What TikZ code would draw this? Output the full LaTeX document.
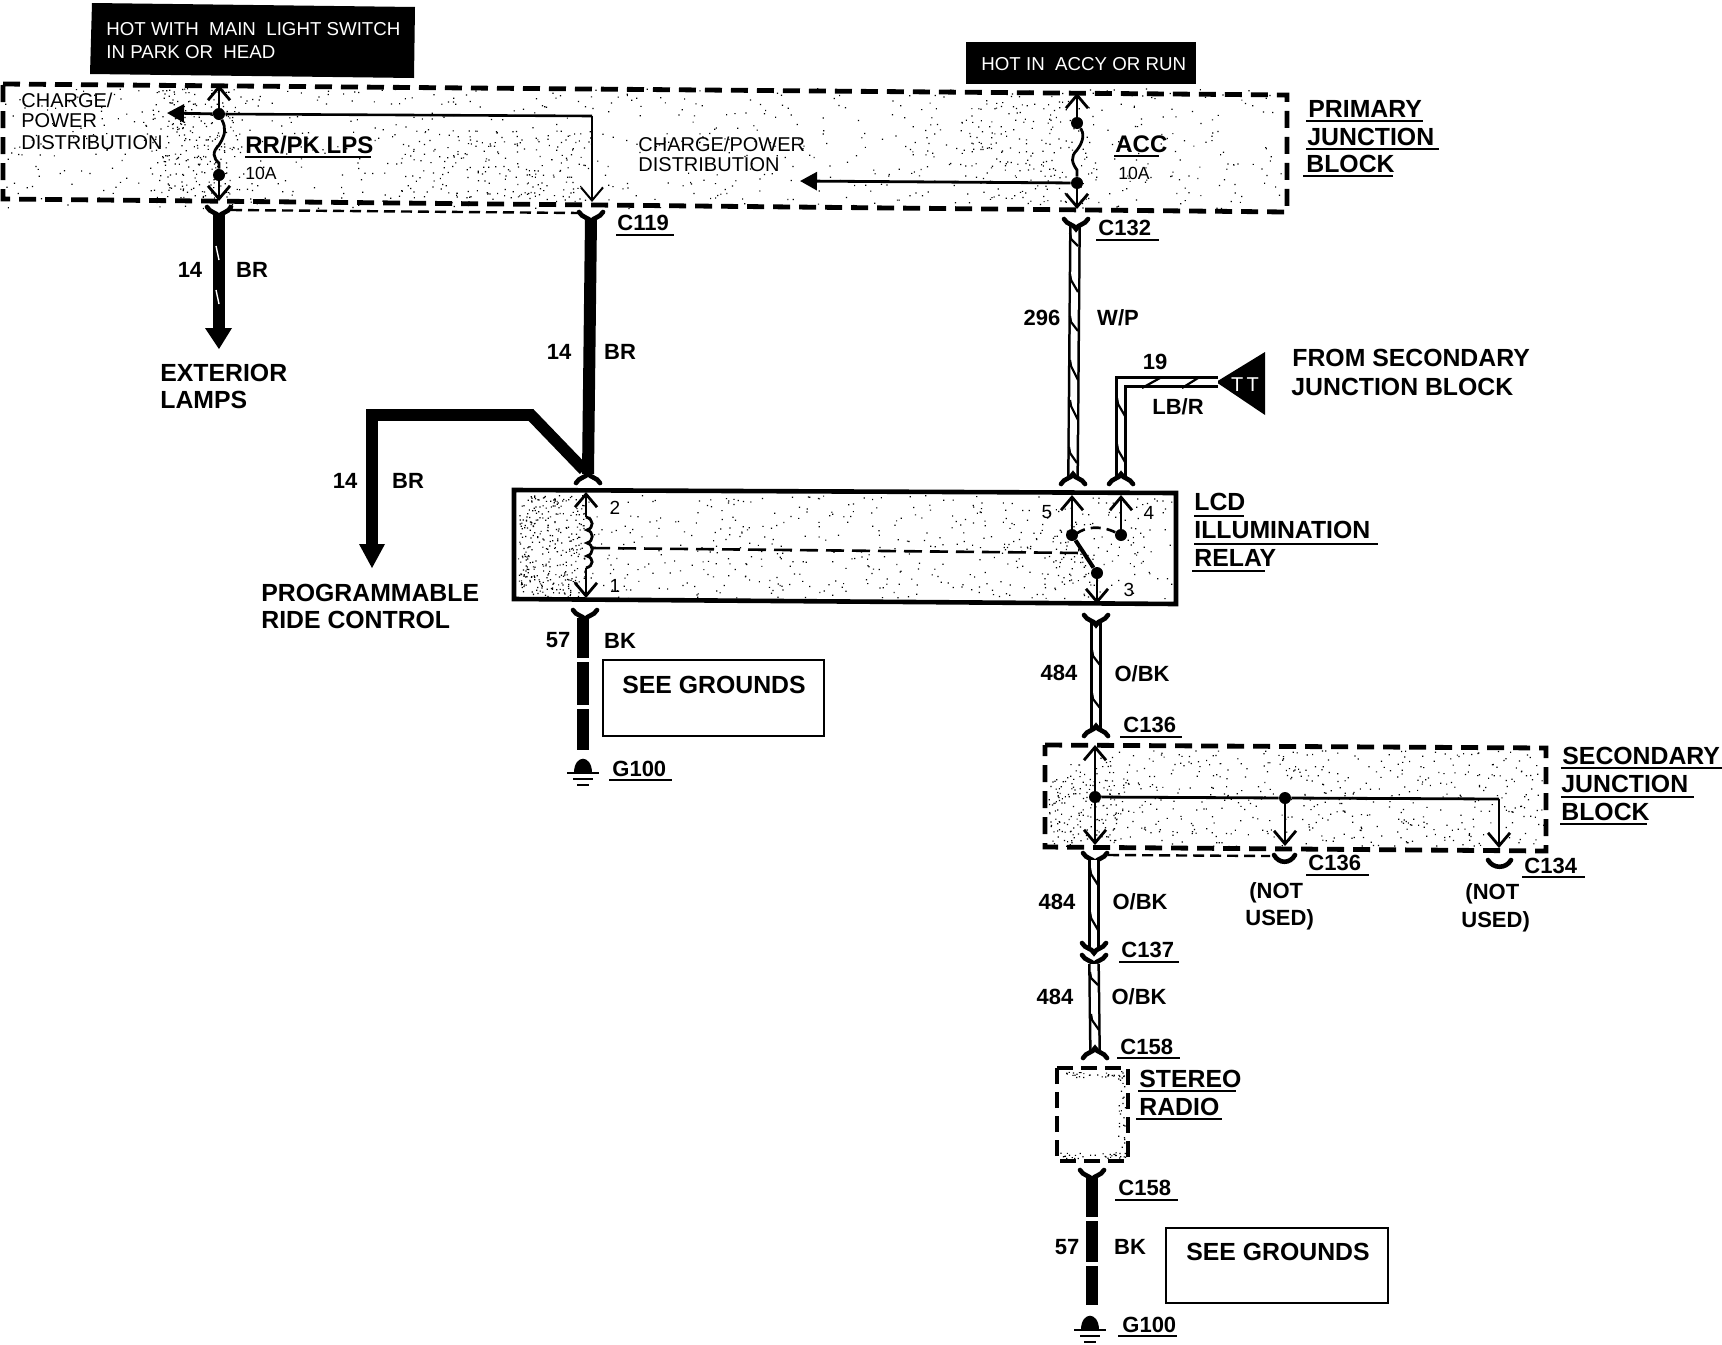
\documentclass[tikz,border=0pt]{standalone}
\usepackage{fontspec}
\setmainfont{Liberation Sans}
\usetikzlibrary{arrows.meta}
\newcommand\fbig{\fontsize{12.4}{15}\selectfont\bfseries}
\newcommand\fmid{\fontsize{11}{14}\selectfont\bfseries}
\newcommand\fsmall{\fontsize{10}{12}\selectfont}
\newcommand\fwhite{\fontsize{9.35}{12}\selectfont}
\newcommand\stipple[5]{\fill[black] \foreach \i in {1,...,#5}{ ({#1+rnd*(#3-#1)},{#2+rnd*(#4-#2)}) rectangle ++(1.2,1.2) };}
\newcommand\ul[3]{\draw[rule] (#1,#3) -- (#2,#3);}
\newcommand\forktop[2]{\draw[forkline] ({#1-12},#2) .. controls ({#1-9},{#2+6}) and ({#1-2},{#2+5}) .. (#1,{#2+10}) .. controls ({#1+2},{#2+5}) and ({#1+9},{#2+6}) .. ({#1+12},#2);}
\newcommand\forkbot[2]{\draw[forkline] ({#1-12},#2) .. controls ({#1-9},{#2-6}) and ({#1-2},{#2-5}) .. (#1,{#2-10}) .. controls ({#1+2},{#2-5}) and ({#1+9},{#2-6}) .. ({#1+12},#2);}
\newcommand\sv[3]{\draw[slash] ({#1-4},#2) -- ({#1-3},{#2+6}) -- ({#1+4},#3);}
\newcommand\wslash[3]{\draw[wslashline] ({#1-1},#2) -- ({#1+2},#3);}
\newcommand\groundsym[2]{\fill[black] ({#1-9},#2) .. controls ({#1-9},{#2-19}) and ({#1+9},{#2-19}) .. ({#1+9},#2) -- cycle;
  \draw[line width=1.4pt] ({#1-16},#2) -- ({#1+16},#2) ({#1-10},{#2+6}) -- ({#1+10},{#2+6}) ({#1-6},{#2+12}) -- ({#1+6},{#2+12});}
\tikzset{
  wire/.style={line width=1.4pt,>={Straight Barb[length=6.5pt,width=11pt]}},
  thickwire/.style={line width=6pt},
  dblwire/.style={line width=1.25pt,double=white,double distance=3.4pt},
  blockedge/.style={line width=2.4pt,dash pattern=on 8.5pt off 4.5pt},
  thindash/.style={line width=1.2pt,dash pattern=on 5.5pt off 3pt},
  forkline/.style={line width=2.3pt,line cap=round},
  rule/.style={line width=1.1pt},
  slash/.style={line width=1.1pt},
  wslashline/.style={line width=0.7pt,white},
  dot/.style={circle,fill=black,inner sep=0pt,minimum size=6pt},
  big/.style={font=\fbig,inner sep=0pt,anchor=west},
  mid/.style={font=\fmid,inner sep=0pt},
  small/.style={font=\fsmall,inner sep=0pt,anchor=west},
  whitetext/.style={font=\fwhite,text=white,inner sep=0pt,anchor=west},
  seebox/.style={draw,line width=1.25pt,inner sep=0pt},
  pinlabel/.style={font=\fontsize{9.5}{11}\selectfont,inner sep=0pt},
  tinylabel/.style={font=\fontsize{8.8}{10}\selectfont,inner sep=0pt,anchor=west},
  fuselabel/.style={font=\fontsize{12}{14}\selectfont\bfseries,inner sep=0pt,anchor=west},
  conlabel/.style={font=\fmid,inner sep=0pt,anchor=west},
}
\begin{document}
\begin{tikzpicture}[x=0.5pt,y=-0.5pt]
\useasboundingbox (0,0) rectangle (1722,1344);
\fill[white] (0,0) rectangle (1722,1344);
\pgfmathsetseed{7}
% stipple
\stipple{5}{88}{1284}{208}{800}
\stipple{150}{88}{240}{198}{220}
\stipple{400}{130}{590}{198}{150}
\stipple{960}{100}{1100}{205}{150}
\stipple{518}{495}{1172}{598}{500}
\stipple{518}{495}{585}{598}{300}
\stipple{1040}{520}{1100}{598}{60}
\stipple{1048}{750}{1543}{846}{550}
\stipple{1050}{780}{1130}{846}{120}
\stipple{1060}{1071}{1125}{1077}{30}
\stipple{1060}{1152}{1125}{1158}{30}
\stipple{1118}{1071}{1125}{1158}{30}
% block outlines
\draw[blockedge] (3,84) -- (1287,95) -- (1287,212) -- (3,199) -- cycle;
\draw[blockedge] (1045,745) -- (1546,748) -- (1546,851) -- (1045,847) -- cycle;
\draw[blockedge,dash pattern=on 8pt off 4pt] (1057,1068) -- (1128,1068) -- (1128,1161) -- (1057,1161) -- cycle;
\draw[line width=2.3pt] (514,490) -- (1176,493) -- (1176,604) -- (514,599) -- cycle;
% black label boxes
\fill[black] (92,3) -- (415,7) -- (414,78) -- (90,74) -- cycle;
\fill[black] (966,42) -- (1196,42) -- (1196,84) -- (966,84) -- cycle;
\node[whitetext] (hot1) at (106,29) {HOT WITH\ \ MAIN\ \ LIGHT SWITCH};
\node[whitetext] (hot2) at (106,52) {IN PARK OR\ \ HEAD};
\node[whitetext] (hot3) at (981,64) {HOT IN\ \ ACCY OR RUN};
% left feed in primary block
\node[dot] (ja) at (219,114) {};
\node[dot] (jb) at (219,175) {};
\coordinate (ta) at (219,85);
\coordinate (ba) at (219,201);
\coordinate (la) at (167,113);
\coordinate (ca) at (592,116);
\coordinate (bc) at (592,202);
\draw[wire,->] (ja) -- (ta);
\draw[wire,->] (jb) -- (ba);
\draw[wire,-{Triangle[length=8.5pt,width=9pt]}] (ja) -- (la);
\draw[wire] (ja) .. controls (226,128) and (226,134) .. (219,145) .. controls (212,152) and (213,158) .. (219,163) -- (jb);
\draw[line width=1.3pt] (ja) -- (ca);
\draw[line width=1pt,->,>={Straight Barb[length=6.5pt,width=11pt]}] (ca) -- (bc);
% ACC feed
\node[dot] (jc) at (1077,123) {};
\node[dot] (jd) at (1077,183) {};
\coordinate (tc) at (1077,93);
\coordinate (bd) at (1077,209);
\coordinate (ld) at (800,181);
\draw[wire,->] (jc) -- (tc);
\draw[wire,->] (jd) -- (bd);
\draw[wire] (jc) .. controls (1084,133) and (1084,141) .. (1077,150) .. controls (1070,157) and (1072,163) .. (1077,170) -- (jd);
\draw[wire,-{Triangle[length=8.5pt,width=9pt]}] (jd) -- (ld);
% wire 14 BR exterior lamps
\coordinate (w1a) at (219,214);
\coordinate (w1b) at (219,330);
\draw[thickwire] (w1a) -- (w1b);
\fill[black] (205,328) -- (232,328) -- (219,349) -- cycle;
\forktop{219}{207}
\wslash{217}{246}{260}
\wslash{217}{290}{304}
\draw[thindash] (231,210) -- (580,213);
% wire 14 BR C119
\coordinate (w2a) at (591,218);
\coordinate (w2b) at (588,474);
\draw[thickwire] (w2a) -- (w2b);
\forktop{591}{212}
\forkbot{588}{483}
% programmable ride control
\coordinate (w3a) at (584,470);
\coordinate (w3b) at (531,415);
\coordinate (w3c) at (372,415);
\coordinate (w3d) at (372,546);
\draw[line width=5.8pt,line join=miter] (w3a) -- (w3b) -- (w3c) -- (w3d);
\fill[black] (359,544) -- (385,544) -- (372,568) -- cycle;
% relay internals
\coordinate (ra) at (586,492);
\coordinate (rb) at (586,598);
\coordinate (rc) at (586,517);
\coordinate (rd) at (586,568);
\draw[wire,->] (rc) -- (ra);
\draw[wire,->] (rd) -- (rb);
\draw[wire] (rc) .. controls (594,519) and (594,528) .. (587,530) .. controls (594,532) and (594,541) .. (587,543) .. controls (594,545) and (594,554) .. (587,556) .. controls (594,558) and (594,566) .. (rd);
\coordinate (da) at (592,548);
\coordinate (db) at (1083,553);
\draw[line width=1.3pt,dash pattern=on 9pt off 4pt] (da) -- (db);
\node[dot] (j5) at (1072,535) {};
\node[dot] (j4) at (1121,535) {};
\node[dot] (j3) at (1097,573) {};
\coordinate (t5) at (1072,495);
\coordinate (t4) at (1121,495);
\coordinate (b3) at (1097,604);
\draw[wire,->] (j5) -- (t5);
\draw[wire,->] (j4) -- (t4);
\draw[wire,->] (j3) -- (b3);
\draw[line width=2pt] (j5) -- (j3);
\draw[line width=1.3pt,dash pattern=on 5pt off 3pt] (1076,534) .. controls (1085,527) and (1100,525) .. (j4);
% 296 W/P
\coordinate (w4a) at (1075,226);
\coordinate (w4b) at (1073,476);
\draw[dblwire] (w4a) -- (w4b);
\forktop{1076}{219}
\forkbot{1073}{484}
\sv{1074}{233}{246}
\sv{1074}{274}{292}
\sv{1074}{316}{331}
\sv{1074}{360}{380}
\sv{1074}{400}{420}
\sv{1073}{447}{463}
% 19 LB/R
\fill[black] (1216,382) -- (1265,352) -- (1265,415) -- cycle;
\node[font=\fsmall,text=white,inner sep=0pt] (tt) at (1245,385) {T\,T};
\coordinate (w5a) at (1218,382);
\coordinate (w5b) at (1121,382);
\coordinate (w5c) at (1121,476);
\draw[dblwire,line join=miter] (w5a) -- (w5b) -- (w5c);
\forkbot{1121}{484}
\draw[slash] (1142,388) -- (1160,378);
\draw[slash] (1182,388) -- (1198,378);
\sv{1121}{398}{416}
\sv{1121}{444}{462}
% 57 BK left
\coordinate (w6a) at (583,618);
\coordinate (w6b) at (583,658);
\coordinate (w6c) at (583,662);
\coordinate (w6d) at (583,705);
\coordinate (w6e) at (583,709);
\coordinate (w6f) at (583,750);
\draw[line width=5.6pt] (w6a) -- (w6b) (w6c) -- (w6d) (w6e) -- (w6f);
\forktop{585}{610}
\groundsym{583}{773}
\node[seebox,minimum width=110.5pt,minimum height=38pt] (see1) at (713.5,698) {};
\node[font=\fbig,inner sep=0pt] (see1t) at (714,685) {SEE GROUNDS};
% 484 O/BK upper
\coordinate (w7a) at (1096,622);
\coordinate (w7b) at (1096,728);
\draw[dblwire] (w7a) -- (w7b);
\forktop{1096}{615}
\forkbot{1096}{736}
\sv{1096}{650}{665}
\sv{1096}{693}{708}
% secondary block wires
\node[dot] (j6) at (1095,797) {};
\node[dot] (j7) at (1285,798) {};
\coordinate (t6) at (1095,745);
\coordinate (b6) at (1095,845);
\coordinate (b7) at (1285,846);
\coordinate (c8) at (1499,799);
\coordinate (b8) at (1499,848);
\draw[wire,->] (j6) -- (t6);
\draw[wire,->] (j6) -- (b6);
\draw[wire,->] (j7) -- (b7);
\draw[line width=1.4pt] (j6) -- (j7) -- (c8);
\draw[wire,->] (c8) -- (b8);
\forktop{1095}{853}
\draw[thindash] (1108,855) -- (1270,856);
\draw[forkline] (1274,855) .. controls (1279,864) and (1290,864) .. (1295,855);
\draw[forkline] (1488,860) .. controls (1493,869) and (1506,869) .. (1511,860);
% 484 lower
\coordinate (w8a) at (1094,860);
\coordinate (w8b) at (1094,950);
\draw[dblwire] (w8a) -- (w8b);
\sv{1094}{868}{885}
\sv{1094}{912}{930}
\forktop{1094}{943}
\forktop{1094}{955}
\coordinate (w9a) at (1094,964);
\coordinate (w9b) at (1095,1050);
\draw[dblwire] (w9a) -- (w9b);
\sv{1094}{972}{985}
\sv{1095}{1014}{1030}
\forkbot{1095}{1058}
% 57 BK lower
\coordinate (w10a) at (1092,1178);
\coordinate (w10b) at (1092,1217);
\coordinate (w10c) at (1092,1221);
\coordinate (w10d) at (1092,1262);
\coordinate (w10e) at (1092,1266);
\coordinate (w10f) at (1092,1305);
\draw[line width=6pt] (w10a) -- (w10b) (w10c) -- (w10d) (w10e) -- (w10f);
\forktop{1092}{1170}
\groundsym{1090}{1330}
\node[seebox,minimum width=111pt,minimum height=37.5pt] (see2) at (1277,1265.5) {};
\node[font=\fbig,inner sep=0pt] (see2t) at (1278,1252) {SEE GROUNDS};
% texts: primary block
\node[small] (cp1) at (21,100) {CHARGE/};
\node[small] (cp2) at (21,121) {POWER};
\node[small] (cp3) at (21,143) {DISTRIBUTION};
\node[small] (cp4) at (638,144) {CHARGE/POWER};
\node[small] (cp5) at (638,165) {DISTRIBUTION};
\node[fuselabel] (rr) at (245,145) {RR/PK LPS};\ul{245}{371}{157}
\node[tinylabel] (a10a) at (245,173) {10A};
\node[fuselabel] (acc) at (1115,144) {ACC};\ul{1114}{1159}{156}
\node[tinylabel] (a10b) at (1118,173) {10A};
\node[big] (pj1) at (1308,109) {PRIMARY};\ul{1306}{1423}{121}
\node[big] (pj2) at (1307,137) {JUNCTION};\ul{1306}{1439}{149}
\node[big] (pj3) at (1306,164) {BLOCK};\ul{1303}{1393}{176}
\node[conlabel] (c119) at (617,223) {C119};\ul{616}{674}{235}
\node[conlabel] (c132) at (1098,228) {C132};\ul{1096}{1159}{240}
% wire labels
\node[mid] (n14a) at (190,270) {14};
\node[mid] (brA) at (252,270) {BR};
\node[mid] (n14b) at (559,352) {14};
\node[mid] (brB) at (620,352) {BR};
\node[mid] (n14c) at (345,481) {14};
\node[mid] (brC) at (408,481) {BR};
\node[mid] (n296) at (1042,318) {296};
\node[mid] (wp) at (1118,318) {W/P};
\node[mid] (n19) at (1155,362) {19};
\node[mid] (lbr) at (1178,407) {LB/R};
\node[mid] (n57a) at (558,640) {57};
\node[mid] (bkA) at (620,641) {BK};
\node[mid] (n484a) at (1059,673) {484};
\node[mid] (obA) at (1142,674) {O/BK};
\node[mid] (n484b) at (1057,902) {484};
\node[mid] (obB) at (1140,902) {O/BK};
\node[mid] (n484c) at (1055,997) {484};
\node[mid] (obC) at (1139,997) {O/BK};
\node[mid] (n57b) at (1067,1247) {57};
\node[mid] (bkB) at (1130,1247) {BK};
% destinations
\node[big] (ext1) at (160,373) {EXTERIOR};
\node[big] (ext2) at (160,400) {LAMPS};
\node[big] (prog1) at (261,593) {PROGRAMMABLE};
\node[big] (prog2) at (261,620) {RIDE CONTROL};
\node[big] (from1) at (1292,358) {FROM SECONDARY};
\node[big] (from2) at (1291,387) {JUNCTION BLOCK};
% relay labels
\node[big] (lcd1) at (1194,502) {LCD};\ul{1194}{1244}{516}
\node[big] (lcd2) at (1194,530) {ILLUMINATION};\ul{1194}{1378}{544}
\node[big] (lcd3) at (1194,558) {RELAY};\ul{1192}{1265}{571}
\node[pinlabel] (p2) at (615,508) {2};
\node[pinlabel] (p1) at (615,586) {1};
\node[pinlabel] (p5) at (1047,512) {5};
\node[pinlabel] (p4) at (1149,513) {4};
\node[pinlabel] (p3) at (1129,590) {3};
\node[conlabel] (g1) at (612,769) {G100};\ul{609}{672}{780}
% secondary labels
\node[conlabel] (c136a) at (1123,725) {C136};\ul{1120}{1182}{737}
\node[big] (sj1) at (1562,756) {SECONDARY};\ul{1561}{1722}{768}
\node[big] (sj2) at (1561,784) {JUNCTION};\ul{1561}{1694}{797}
\node[big] (sj3) at (1561,812) {BLOCK};\ul{1560}{1647}{824}
\node[conlabel] (c136b) at (1308,863) {C136};\ul{1306}{1369}{875}
\node[conlabel] (c134) at (1524,866) {C134};\ul{1522}{1585}{877}
\node[conlabel] (nu1) at (1249,893) {(NOT};
\node[conlabel] (nu2) at (1245,920) {USED)};
\node[conlabel] (nu3) at (1465,894) {(NOT};
\node[conlabel] (nu4) at (1461,922) {USED)};
\node[conlabel] (c137) at (1121,950) {C137};\ul{1119}{1179}{962}
\node[conlabel] (c158a) at (1120,1047) {C158};\ul{1117}{1180}{1058}
\node[big] (st1) at (1139,1079) {STEREO};\ul{1138}{1236}{1091}
\node[big] (st2) at (1139,1107) {RADIO};\ul{1136}{1222}{1119}
\node[conlabel] (c158b) at (1118,1188) {C158};\ul{1115}{1178}{1200}
\node[conlabel] (g2) at (1122,1325) {G100};\ul{1118}{1177}{1336}
\end{tikzpicture}
\end{document}
